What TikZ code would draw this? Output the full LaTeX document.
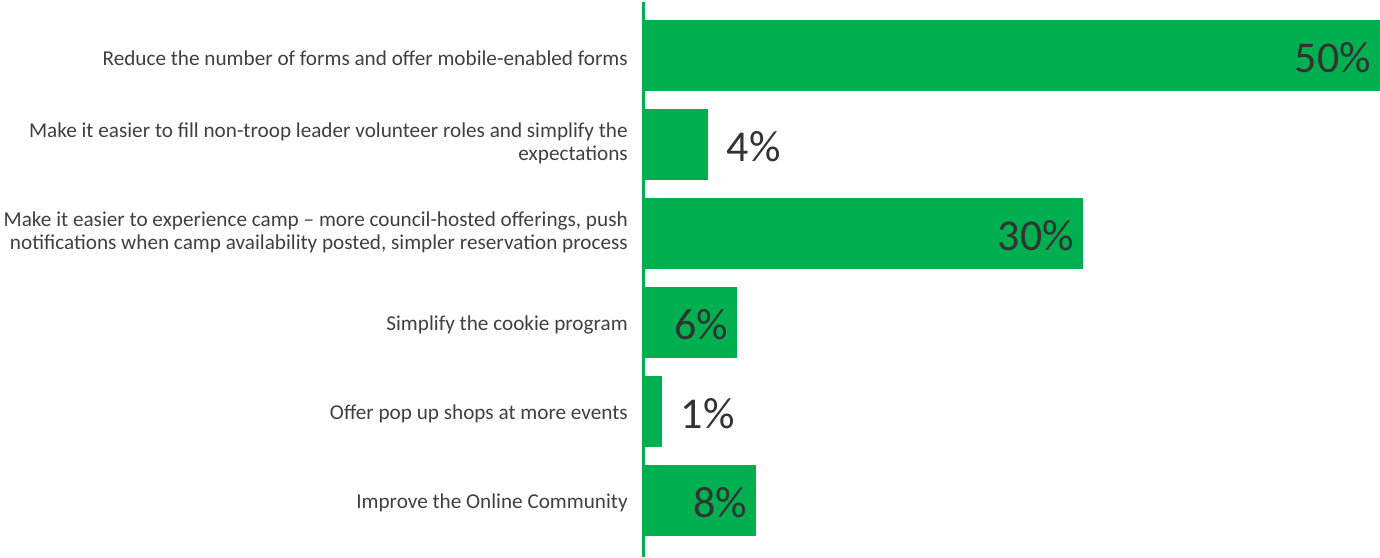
\documentclass[tikz,border=0pt]{standalone}
\usepackage{fontspec}
\setmainfont{Carlito}
\usepackage{xcolor}
\usepackage{tikz}
\usetikzlibrary{positioning}
\definecolor{barGreen}{HTML}{00B050}
\definecolor{labelGray}{HTML}{404040}
\definecolor{pctGray}{HTML}{333333}

\begin{document}
\begin{tikzpicture}
  [
    x=0.75pt, y=-0.75pt,
    Bar/.style={rectangle, fill=barGreen, anchor=west, inner sep=0pt, minimum height=53.25pt},
    Label/.style={anchor=east, inner sep=0pt, align=right, text=labelGray, font=\fontsize{15.9}{17.25}\selectfont},
    Pct/.style={inner sep=0pt, yshift=-1.5pt, text=pctGray, font=\fontsize{33}{38}\selectfont}
  ]
  \useasboundingbox (0,0) rectangle (1380,557);

  % Bars
  \node[Bar, minimum width=553.5pt] (b1) at(642, 55.5) {};
  \node[Bar, minimum width=49.5pt] (b2) at(642, 144.5) {};
  \node[Bar, minimum width=330.75pt] (b3) at(642, 233.5) {};
  \node[Bar, minimum width=71.25pt] (b4) at(642, 322.5) {};
  \node[Bar, minimum width=15pt] (b5) at(642, 411.5) {};
  \node[Bar, minimum width=85.5pt] (b6) at(642, 500.5) {};

  % Axis
  \coordinate (top) at (643, 2);
  \coordinate (bottom) at (643, 557);
  \draw[barGreen, line width=2.25pt] (top) -- (bottom);

  % Category labels
  \node[Label] (l1) at(628, 58) {Reduce the number of forms and offer mobile-enabled forms};
  \node[Label] (l2) at(628, 143.5) {Make it easier to fill non-troop leader volunteer roles and simplify the\\expectations};
  \node[Label] (l3) at(628, 232.5) {Make it easier to experience camp -- more council-hosted offerings, push\\notifications when camp availability posted, simpler reservation process};
  \node[Label] (l4) at(628, 325) {Simplify the cookie program};
  \node[Label] (l5) at(628, 414) {Offer pop up shops at more events};
  \node[Label] (l6) at(628, 503) {Improve the Online Community};

  % Values
  \node[Pct, left=7pt of b1.east] (p1) {50\%};
  \node[Pct, right=13.5pt of b2.east] (p2) {4\%};
  \node[Pct, left=7pt of b3.east] (p3) {30\%};
  \node[Pct, left=7pt of b4.east] (p4) {6\%};
  \node[Pct, right=13.5pt of b5.east] (p5) {1\%};
  \node[Pct, left=7pt of b6.east] (p6) {8\%};

\end{tikzpicture}
\end{document}
